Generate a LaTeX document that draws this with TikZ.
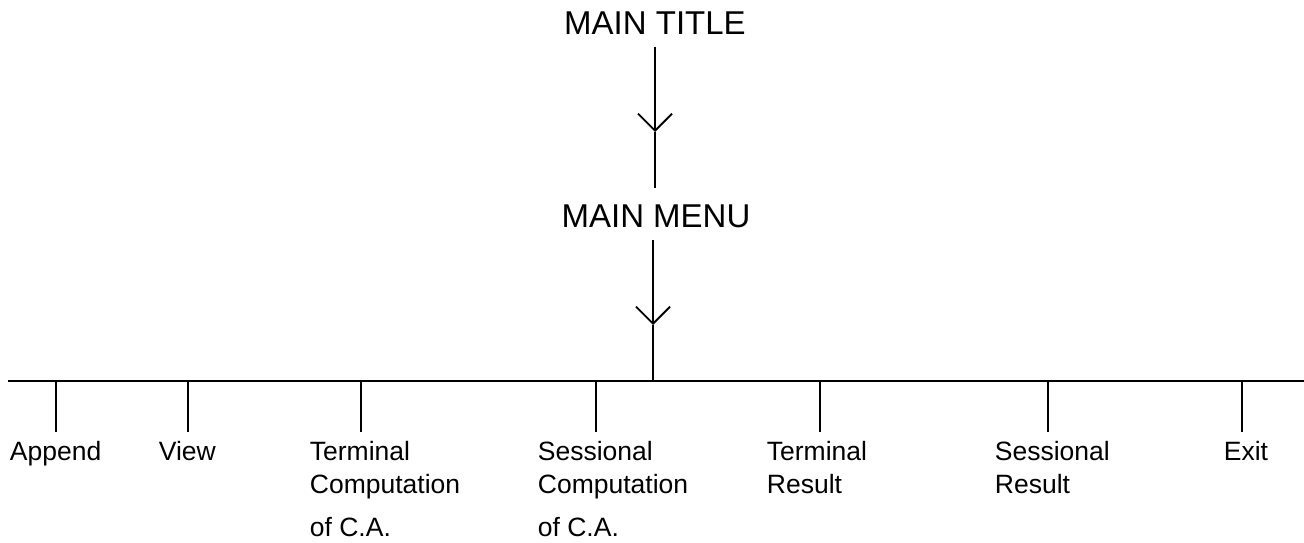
\documentclass[tikz,border=0pt]{standalone}
\usepackage{fontspec}
\setmainfont{Liberation Sans}
\usetikzlibrary{arrows.meta}
\begin{document}
\begin{tikzpicture}[x=1pt,y=-1pt, line width=1.8pt,
  ttl/.style={inner sep=0pt, anchor=base, font=\fontsize{33}{40}\selectfont},
  lbl/.style={inner sep=0pt, anchor=north west, align=left, font=\fontsize{26.5}{33}\selectfont},
  flow/.style={-{Straight Barb[length=17pt,width=34pt]}}]
\useasboundingbox (0,0) rectangle (1304,543);
\node[ttl] (title) at (655,35) {MAIN TITLE};
\node[ttl] (menu) at (656,227) {MAIN MENU};
\coordinate (m1) at (655,132);
\coordinate (m2) at (653,325);
\coordinate (bL) at (8,381);
\coordinate (bR) at (1304,381);
\path (title.base) ++(0,12) coordinate (tb);
\path (menu.north) ++(0,-15) coordinate (mt);
\path (menu.base) ++(0,13) coordinate (mb);
\draw[flow] (tb -| m1) -- (m1);
\draw (m1) -- (mt -| m1);
\draw[flow] (mb -| m2) -- (m2);
\draw (m2) -- (m2 |- bL);
\draw (bL) -- (bR);
\node[lbl] (append) at (9,440) {Append};
\node[lbl] (view) at (158,440) {View};
\node[lbl] (tca) at (309,440) {Terminal\\Computation\\[10pt]of C.A.};
\node[lbl] (sca) at (537,440) {Sessional\\Computation\\[10pt]of C.A.};
\node[lbl] (tres) at (766,440) {Terminal\\Result};
\node[lbl] (sres) at (994,440) {Sessional\\Result};
\node[lbl] (exit) at (1223,440) {Exit};
\foreach \n/\x in {append/56, view/188, tca/361, sca/596, tres/820, sres/1048, exit/1242}{
  \coordinate (t-\n) at (\x,381);
  \path (\n.north) ++(0,-8) coordinate (e-\n);
  \draw (t-\n) -- (t-\n |- e-\n);
}
\end{tikzpicture}
\end{document}
